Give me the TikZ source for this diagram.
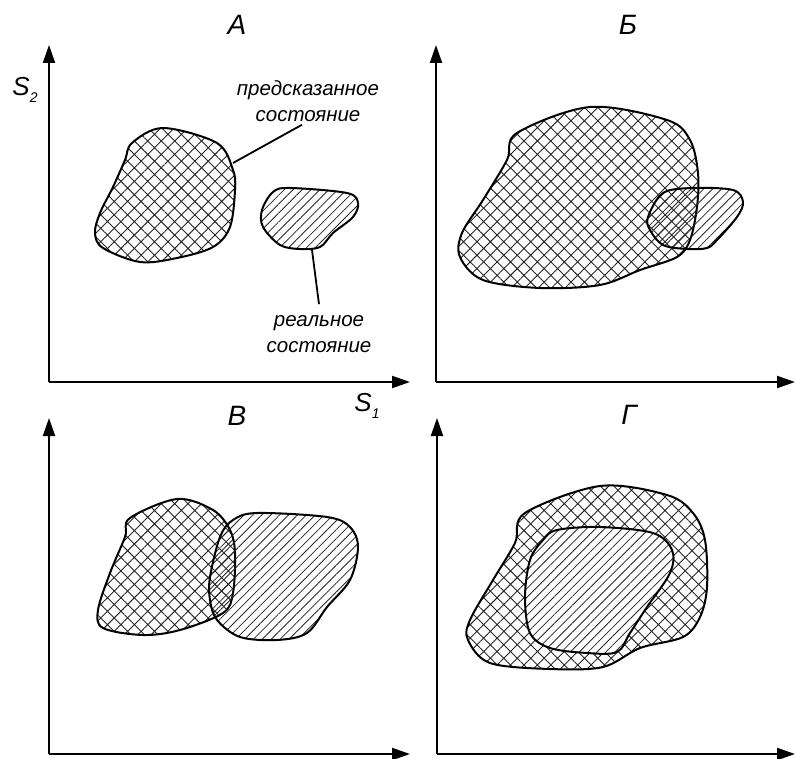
\documentclass[tikz,border=0pt]{standalone}
\usepackage{fontspec}
\setmainfont{Liberation Sans}
\usetikzlibrary{arrows.meta,patterns.meta}

\begin{document}
\begin{tikzpicture}[x=1pt,y=-1pt,
      axis/.style={line width=2pt,-{Triangle[length=18pt,width=12pt]}},
      blob/.style={line width=2pt,smooth cycle,tension=0.55},
      predicted/.style={blob,pattern={Hatch[angle=45,distance=9.5pt,line width=0.9pt]},pattern color=black!85},
      actual/.style={blob,pattern={Lines[angle=45,distance=6.3pt,line width=0.8pt]},pattern color=black!85},
      ttl/.style={inner sep=0pt,font=\itshape\fontsize{28}{32}\selectfont},
      axlbl/.style={inner sep=0pt,font=\itshape\fontsize{26}{28}\selectfont},
      note/.style={align=center,inner sep=0pt,font=\itshape\fontsize{20.5}{26}\selectfont},
      leader/.style={line width=1.8pt}]
    \useasboundingbox (0,0) rectangle (795,759);
    \newcommand{\sub}[1]{\raisebox{-0.3em}{\fontsize{14}{14}\selectfont #1}}
    % axes
    \draw[axis] (49,382) -- (49,45);
    \draw[axis] (49,382) -- (410,382);
    \draw[axis] (436,382) -- (436,45);
    \draw[axis] (436,382) -- (795,382);
    \draw[axis] (49,754) -- (49,418);
    \draw[axis] (49,754) -- (410,754);
    \draw[axis] (437,754) -- (437,418);
    \draw[axis] (437,754) -- (795,754);
    \node[ttl] (tA) at (237,25) {А};
    \node[ttl] (tB) at (628,25) {Б};
    \node[ttl] (tV) at (237,416) {В};
    \node[ttl] (tG) at (629,415) {Г};
    \node[axlbl] (s2) at (25,90) {S\sub{2}};
    \node[axlbl] (s1) at (367,406) {S\sub{1}};
    % A
    \draw[predicted] plot coordinates {(132,143) (163,128) (217,143) (233,170) (235,190) (230,227)
      (213,247) (177,258) (140,262) (103,248) (95,233) (100,213) (113,187) (125,160)};
    \draw[actual] plot coordinates {(262,210) (273,192) (290,188) (347,193) (358,203) (353,217)
      (333,233) (320,247) (300,249) (280,245) (263,227)};
    \coordinate (pA) at (233,163);
    \coordinate (rA) at (312,250);
    \node[note] (pn) at (308,101) {предсказанное\\состояние};
    \node[note] (rn) at (319,334) {реальное\\состояние};
    \draw[leader] ([xshift=-6pt,yshift=-3pt]pn.south) -- (pA);
    \draw[leader] (rA) -- ([yshift=11pt]rn.north);
    % Б
    \draw[predicted] plot coordinates {(517,133) (590,107) (667,120) (690,140) (698,173) (697,207)
      (690,240) (677,257) (640,270) (600,285) (540,288) (483,280) (460,257) (462,233) (483,200)
      (507,160)};
    \draw[actual] plot coordinates {(648,217) (663,193) (693,188) (733,190) (743,202) (737,217)
      (717,240) (707,248) (687,249) (663,245) (650,230)};
    % В
    \draw[predicted] plot coordinates {(130,518) (177,499) (213,510) (230,530) (235,553) (233,593)
      (223,613) (180,630) (143,635) (103,628) (98,610) (110,573) (125,537)};
    \draw[actual] plot coordinates {(210,577) (220,537) (233,520) (257,513) (327,517) (350,527)
      (358,547) (350,580) (327,607) (307,633) (277,640) (240,637) (217,620) (210,600)};
    % Г
    \draw[predicted] plot coordinates {(525,513) (600,486) (667,495) (693,513) (705,540) (707,587)
      (700,617) (683,637) (640,648) (603,667) (550,669) (490,663) (468,640) (470,620) (493,580)
      (515,543)};
    \draw[actual,preaction={fill=white}] plot coordinates {(525,597) (530,560) (543,540) (557,530)
      (600,527) (653,533) (672,550) (670,573) (647,607) (630,633) (617,652) (587,653) (550,648)
      (530,633)};
  \end{tikzpicture}
\end{document}
